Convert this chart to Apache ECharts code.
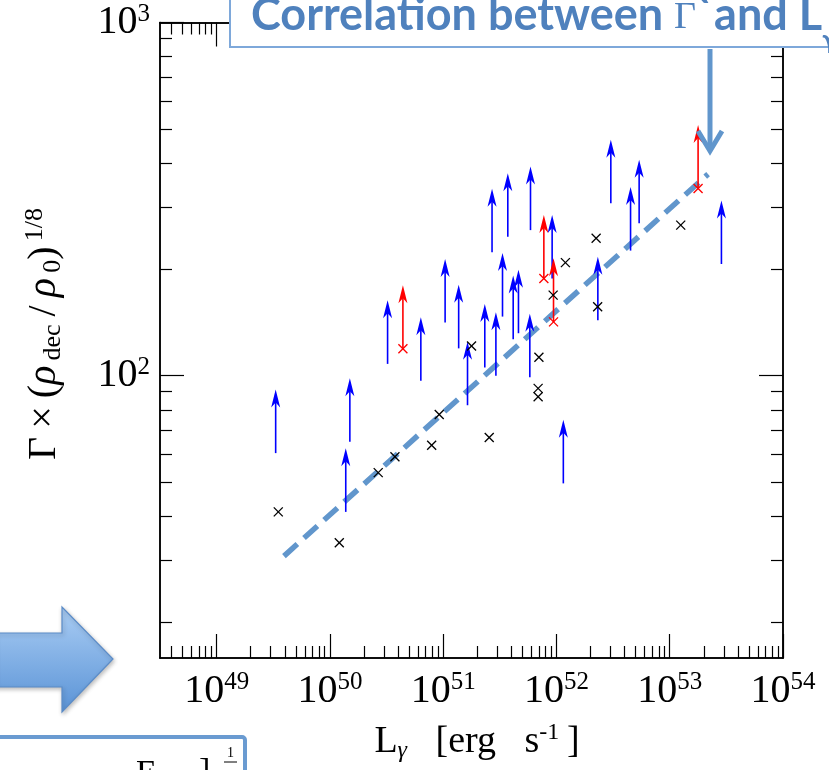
<!DOCTYPE html>
<html>
<head>
<meta charset="utf-8">
<script src="https://cdn.jsdelivr.net/npm/echarts@6/dist/echarts.min.js"></script>
<style>
  html, body { margin: 0; padding: 0; background: #fff; }
  #chart { width: 829px; height: 770px; }
</style>
</head>
<body>
<div id="chart"></div>
<script>
// values: L_gamma [erg/s], Gamma x (rho_dec/rho_0)^(1/8)
const measuredL = [3.50e49, 1.21e50, 2.67e50, 3.75e50, 7.91e50, 9.23e50, 2.55e51, 1.78e51,
  7.0e51, 6.89e51, 6.89e51, 9.35e51, 1.20e52, 2.24e52, 2.31e52, 1.25e53];
const measuredG = [41.1, 33.6, 53.1, 58.9, 63.5, 77.6, 66.8, 121.3,
  112.7, 92.0, 87.1, 169.0, 208.9, 244.9, 156.7, 266.7];

// lower limits (blue arrows)
const limitL = [3.32e49, 1.50e50, 1.38e50, 3.23e50, 6.35e50, 1.04e51, 1.37e51, 1.64e51,
  2.33e51, 2.92e51, 2.70e51, 3.34e51, 3.72e51, 4.15e51, 4.62e51, 5.90e51,
  5.82e51, 9.16e51, 1.15e52, 2.32e52, 3.02e52, 4.51e52, 5.37e52, 2.86e53];
const limitG = [60.3, 64.9, 41.1, 107.9, 96.6, 141.3, 119.4, 82.4,
  105.4, 99.8, 223.4, 146.9, 247.2, 126.8, 131.8, 258.2,
  98.9, 188.4, 49.5, 143.5, 307.6, 225.9, 269.8, 207.0];

// measured but also flagged as lower limits (red)
const flaggedL = [4.41e50, 7.74e51, 9.42e51, 1.78e53];
const flaggedG = [119.1, 188.4, 141.9, 338.8];

// dashed correlation line
const fitL = [3.93e49, 2.18e53];
const fitG = [30.8, 372];

const xMajor = [49, 50, 51, 52, 53, 54];
const yMajor = [2, 3];
const X_MIN = 48.5, X_MAX = 54, Y_MIN = 1.2, Y_MAX = 3;
const ARROW_DEX = 0.18;

const lg = Math.log10;
const pairs = (xs, ys) => xs.map((x, i) => [lg(x), lg(ys[i])]);

function minorTicks(lo, hi) {
  const out = [];
  for (let n = Math.floor(lo); n < hi; n++) {
    for (let k = 2; k <= 9; k++) {
      const v = n + lg(k);
      if (v > lo && v < hi) out.push(v);
    }
  }
  return out;
}

const SERIF = 'Liberation Serif';
const FRAME = { show: true, onZero: false, lineStyle: { color: '#000', width: 1.5 } };
const TS = '\u2009'; // thin space, CM-like loose spacing

function axis(position, min, max, ticks, len, opts) {
  return Object.assign({
    type: 'value', position, min, max,
    axisLine: FRAME,
    axisTick: { show: true, inside: true, length: len, customValues: ticks, lineStyle: { color: '#000', width: 1.2 } },
    axisLabel: { show: false },
    splitLine: { show: false }
  }, opts || {});
}

const tickLabel = (margin, values) => ({
  show: true, customValues: values, margin,
  formatter: v => '{b|10}{s|' + Math.round(v) + '}',
  rich: {
    b: { fontFamily: SERIF, fontSize: 40, color: '#000', lineHeight: 42 },
    s: { fontFamily: SERIF, fontSize: 25, color: '#000', verticalAlign: 'top', lineHeight: 25 }
  }
});

const xMinor = minorTicks(X_MIN, X_MAX);
const yMinor = minorTicks(Y_MIN, Y_MAX);

function crossItem(color) {
  return function (params, api) {
    const c = api.coord([api.value(0), api.value(1)]);
    const h = 4.5;
    const st = { stroke: color, lineWidth: 1.3 };
    return { type: 'group', children: [
      { type: 'line', shape: { x1: c[0] - h, y1: c[1] - h, x2: c[0] + h, y2: c[1] + h }, style: st },
      { type: 'line', shape: { x1: c[0] - h, y1: c[1] + h, x2: c[0] + h, y2: c[1] - h }, style: st }
    ] };
  };
}

function arrowItem(color) {
  return function (params, api) {
    const p0 = api.coord([api.value(0), api.value(1)]);
    const p1 = api.coord([api.value(0), api.value(1) + ARROW_DEX]);
    const x = p0[0], yt = p1[1];
    return { type: 'group', children: [
      { type: 'line', shape: { x1: x, y1: p0[1], x2: x, y2: yt + 10 }, style: { stroke: color, lineWidth: 1.6 } },
      { type: 'polygon', shape: { points: [[x, yt], [x - 4.5, yt + 18], [x, yt + 13], [x + 4.5, yt + 18]] }, style: { fill: color } }
    ] };
  };
}

const chart = echarts.init(document.getElementById('chart'), null, { renderer: 'canvas' });

chart.setOption({
  backgroundColor: '#fff',
  animation: false,
  grid: { left: 160, right: 46, top: 22.5, bottom: 112, containLabel: false, outerBoundsMode: 'none' },
  xAxis: [
    axis('bottom', X_MIN, X_MAX, xMajor, 24, { axisLabel: tickLabel(12, xMajor) }),
    axis('bottom', X_MIN, X_MAX, xMinor, 12),
    axis('top', X_MIN, X_MAX, xMajor, 24),
    axis('top', X_MIN, X_MAX, xMinor, 12)
  ],
  yAxis: [
    axis('left', Y_MIN, Y_MAX, yMajor, 24, { axisLabel: tickLabel(10, yMajor) }),
    axis('left', Y_MIN, Y_MAX, yMinor, 12),
    axis('right', Y_MIN, Y_MAX, yMajor, 24),
    axis('right', Y_MIN, Y_MAX, yMinor, 12)
  ],
  series: [
    {
      type: 'line', data: pairs(fitL, fitG), showSymbol: false, silent: true, z: 1,
      lineStyle: { color: '#6196cc', width: 5.5, type: [18, 9], cap: 'butt' }
    },
    { type: 'custom', data: pairs(limitL, limitG), renderItem: arrowItem('#0000ff'), z: 3 },
    { type: 'custom', data: pairs(flaggedL, flaggedG), renderItem: arrowItem('#ff0000'), z: 3 },
    { type: 'custom', data: pairs(flaggedL, flaggedG), renderItem: crossItem('#ff0000'), z: 4 },
    { type: 'custom', data: pairs(measuredL, measuredG), renderItem: crossItem('#000000'), z: 4 }
  ],
  graphic: [
    // axis titles
    {
      type: 'text', x: 44, y: 334, rotation: Math.PI / 2, z: 10,
      style: {
        text: '{m|Γ' + TS + '×' + TS + '(}{i|ρ}{sub|' + TS + 'dec}{m|' + TS + '/' + TS + '}{i|ρ}{sub|' + TS + '0}{m|)}{sup|' + TS + '1/8}',
        align: 'center', verticalAlign: 'middle',
        rich: {
          m: { fontFamily: SERIF, fontSize: 40, lineHeight: 44, fill: '#000' },
          i: { fontFamily: SERIF, fontSize: 40, fontStyle: 'italic', lineHeight: 44, fill: '#000' },
          sub: { fontFamily: SERIF, fontSize: 26, verticalAlign: 'bottom', lineHeight: 25, fill: '#000' },
          sup: { fontFamily: SERIF, fontSize: 26, verticalAlign: 'top', lineHeight: 25, fill: '#000' }
        }
      }
    },
    {
      type: 'text', x: 477, y: 742, z: 10,
      style: {
        text: '{m|L}{sub|γ}{m|   [erg   s}{sup|-1}{m|' + TS + ']}',
        align: 'center', verticalAlign: 'middle',
        rich: {
          m: { fontFamily: SERIF, fontSize: 38, lineHeight: 42, fill: '#000' },
          sub: { fontFamily: SERIF, fontSize: 24, fontStyle: 'italic', verticalAlign: 'bottom', lineHeight: 22, fill: '#000' },
          sup: { fontFamily: SERIF, fontSize: 24, verticalAlign: 'top', lineHeight: 24, fill: '#000' }
        }
      }
    },
    // slide title box
    {
      type: 'rect', z: 20, shape: { x: 230, y: -6, width: 640, height: 53 },
      style: { fill: '#fff', stroke: '#7ea8da', lineWidth: 2 }
    },
    {
      type: 'text', x: 251, y: 15, z: 21,
      style: {
        text: '{t|Correlation between }{g|Γ}{t|`and L}{s|γ}',
        verticalAlign: 'middle',
        rich: {
          t: { fontFamily: 'Lato', fontWeight: 'bold', fontSize: 45, fill: '#4f81bd', lineHeight: 46 },
          g: { fontFamily: SERIF, fontSize: 38, fill: '#4f81bd', lineHeight: 46, padding: [6, 0, 0, 0] },
          s: { fontFamily: 'Lato', fontWeight: 'bold', fontSize: 27, fill: '#4f81bd', verticalAlign: 'bottom', lineHeight: 27, padding: [0, 0, -16, 0] }
        }
      }
    },
    // pointer arrow from the title
    {
      type: 'line', z: 20, shape: { x1: 710, y1: 49, x2: 710, y2: 148 },
      style: { stroke: '#6196cc', lineWidth: 5 }
    },
    {
      type: 'polyline', z: 20, shape: { points: [[698, 131], [710, 151], [722, 131]] },
      style: { stroke: '#6196cc', lineWidth: 5, fill: null }
    },
    // block arrow at the left
    {
      type: 'polygon', z: 20,
      shape: { points: [[-5, 633], [62, 633], [62, 607], [113, 659], [62, 712], [62, 687], [-5, 687]] },
      style: {
        fill: new echarts.graphic.LinearGradient(0, 0, 0, 1, [
          { offset: 0, color: '#aacdf4' }, { offset: 1, color: '#5a93d6' }
        ]),
        stroke: '#5b8cc8', lineWidth: 1.2,
        shadowBlur: 4, shadowColor: 'rgba(0,0,0,0.25)', shadowOffsetX: 1, shadowOffsetY: 2
      }
    },
    // bottom-left equation box (cut off)
    {
      type: 'rect', z: 20, shape: { x: -10, y: 737, width: 255, height: 60, r: 3 },
      style: { fill: '#fff', stroke: '#6a9bd1', lineWidth: 4 }
    },
    {
      type: 'text', x: 136, y: 757, z: 21,
      style: { text: 'E', fontFamily: SERIF, fontSize: 34, fill: '#000' }
    },
    {
      type: 'text', x: 199, y: 755, z: 21,
      style: { text: ']', fontFamily: SERIF, fontSize: 34, fill: '#000' }
    },
    {
      type: 'text', x: 227, y: 746, z: 21,
      style: { text: '1', fontFamily: SERIF, fontSize: 14, fill: '#000' }
    },
    {
      type: 'line', z: 21, shape: { x1: 224, y1: 762, x2: 237, y2: 762 },
      style: { stroke: '#000', lineWidth: 1 }
    }
  ]
});
</script>
</body>
</html>
